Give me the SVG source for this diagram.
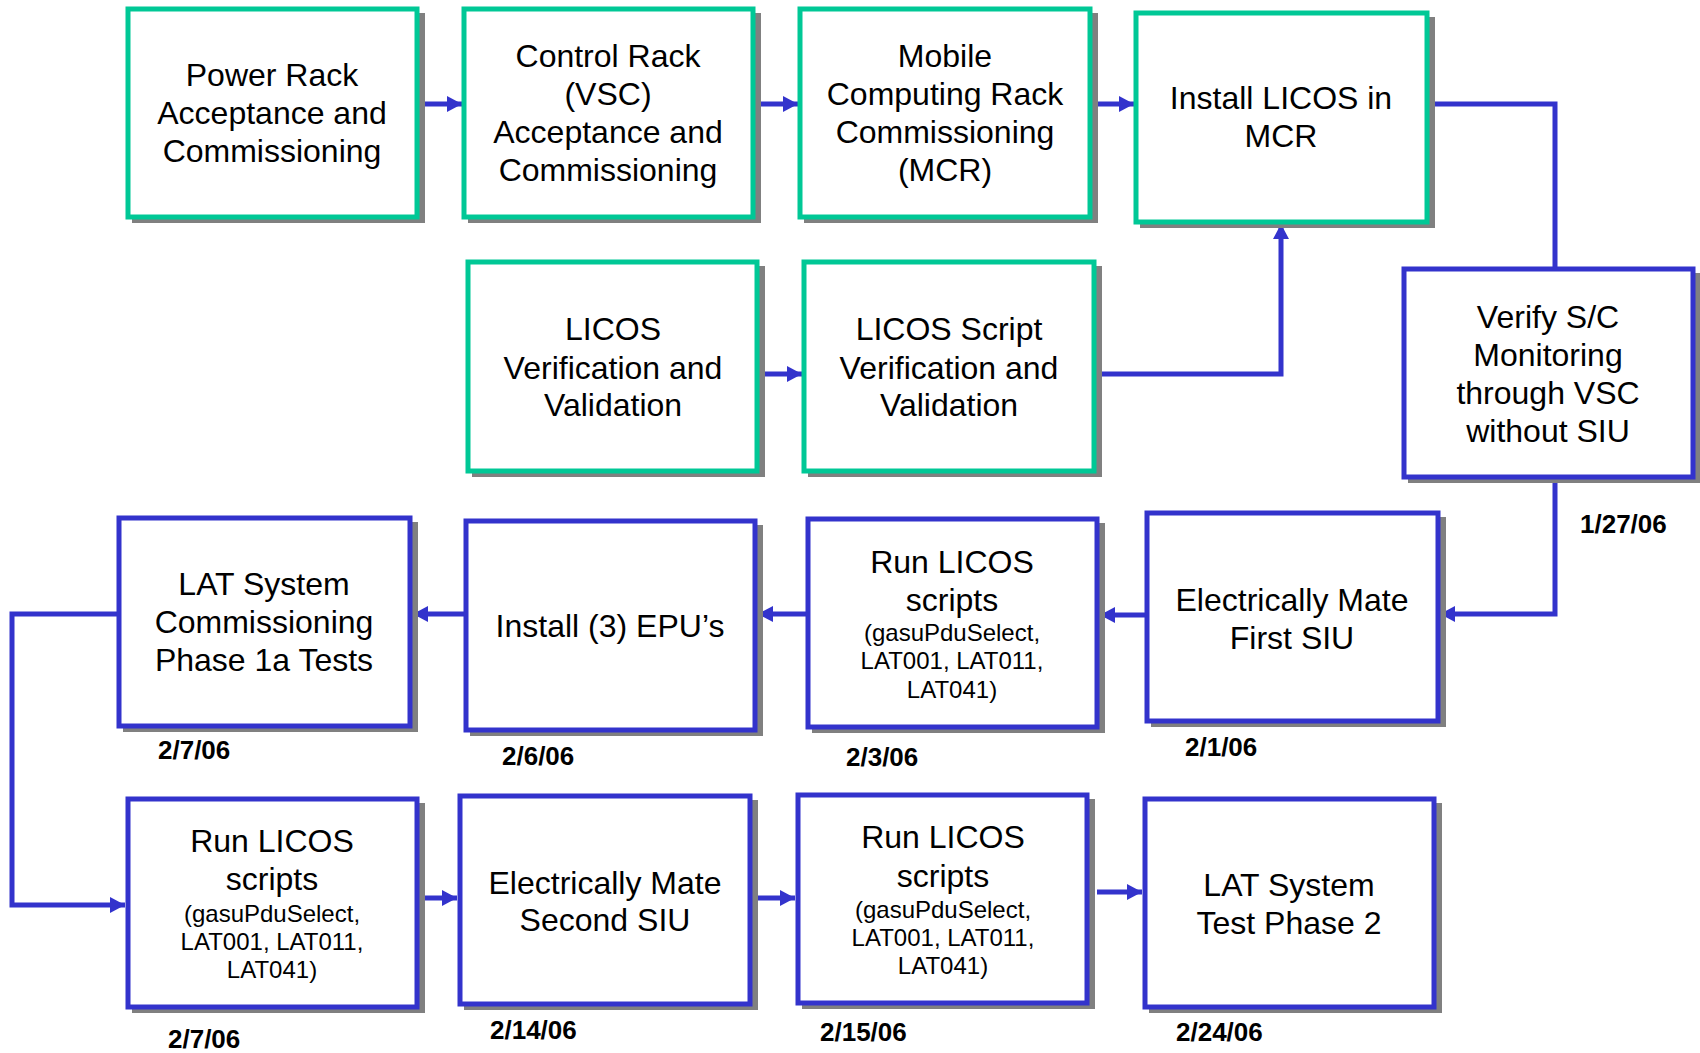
<svg xmlns="http://www.w3.org/2000/svg" width="1700" height="1053" viewBox="0 0 1700 1053">
<style>
.g{fill:#fff;stroke:#00C896;stroke-width:5}
.b{fill:#fff;stroke:#3333CC;stroke-width:5}
.s{fill:#808080}
.t{font-family:"Liberation Sans",Arial,sans-serif;font-size:32px;fill:#000;text-anchor:middle}
.sm{font-size:24px}
.d{font-family:"Liberation Sans",Arial,sans-serif;font-size:26px;font-weight:bold;fill:#000}
.c{fill:none;stroke:#3333CC;stroke-width:5}
</style>
<defs>
<marker id="ah" markerUnits="userSpaceOnUse" markerWidth="16" markerHeight="16" refX="15" refY="8" orient="auto">
<path d="M0,0 L15,8 L0,16 z" fill="#3333CC"/>
</marker>
</defs>
<rect width="1700" height="1053" fill="#fff"/>

<g id="connectors">
<path class="c" d="M417,104 H462" marker-end="url(#ah)"/>
<path class="c" d="M753,104 H798" marker-end="url(#ah)"/>
<path class="c" d="M1090,104 H1134" marker-end="url(#ah)"/>
<path class="c" d="M1427,104 H1555 V269"/>
<path class="c" d="M757,374 H802" marker-end="url(#ah)"/>
<path class="c" d="M1094,374 H1281 V224" marker-end="url(#ah)"/>
<path class="c" d="M1555,477 V614 H1440" marker-end="url(#ah)"/>
<path class="c" d="M1147,615 H1100" marker-end="url(#ah)"/>
<path class="c" d="M808,614 H758" marker-end="url(#ah)"/>
<path class="c" d="M466,614 H413" marker-end="url(#ah)"/>
<path class="c" d="M119,614 H12 V905 H125" marker-end="url(#ah)"/>
<path class="c" d="M414,898 H457" marker-end="url(#ah)"/>
<path class="c" d="M750,898 H795" marker-end="url(#ah)"/>
<path class="c" d="M1097,892 H1142" marker-end="url(#ah)"/>
</g>

<g id="power-rack">
<rect class="s" x="132" y="13" width="293" height="210"/>
<rect class="g" x="128" y="9" width="289" height="208"/>
<text class="t" x="272" y="86">Power Rack</text>
<text class="t" x="272" y="124">Acceptance and</text>
<text class="t" x="272" y="162">Commissioning</text>
</g>

<g id="control-rack">
<rect class="s" x="468" y="13" width="293" height="210"/>
<rect class="g" x="464" y="9" width="289" height="208"/>
<text class="t" x="608" y="67">Control Rack</text>
<text class="t" x="608" y="105">(VSC)</text>
<text class="t" x="608" y="143">Acceptance and</text>
<text class="t" x="608" y="181">Commissioning</text>
</g>

<g id="mobile-rack">
<rect class="s" x="804" y="13" width="294" height="210"/>
<rect class="g" x="800" y="9" width="290" height="208"/>
<text class="t" x="945" y="67">Mobile</text>
<text class="t" x="945" y="105">Computing Rack</text>
<text class="t" x="945" y="143">Commissioning</text>
<text class="t" x="945" y="181">(MCR)</text>
</g>

<g id="install-licos">
<rect class="s" x="1140" y="17" width="295" height="211"/>
<rect class="g" x="1136" y="13" width="291" height="209"/>
<text class="t" x="1281" y="109">Install LICOS in</text>
<text class="t" x="1281" y="147">MCR</text>
</g>

<g id="licos-verification">
<rect class="s" x="472" y="266" width="293" height="211"/>
<rect class="g" x="468" y="262" width="289" height="209"/>
<text class="t" x="613" y="340">LICOS</text>
<text class="t" x="613" y="379">Verification and</text>
<text class="t" x="613" y="416">Validation</text>
</g>

<g id="licos-script">
<rect class="s" x="808" y="266" width="294" height="211"/>
<rect class="g" x="804" y="262" width="290" height="209"/>
<text class="t" x="949" y="340">LICOS Script</text>
<text class="t" x="949" y="379">Verification and</text>
<text class="t" x="949" y="416">Validation</text>
</g>

<g id="verify-sc">
<rect class="s" x="1408" y="273" width="293" height="210"/>
<rect class="b" x="1404" y="269" width="289" height="208"/>
<text class="t" x="1548" y="328">Verify S/C</text>
<text class="t" x="1548" y="366">Monitoring</text>
<text class="t" x="1548" y="404">through VSC</text>
<text class="t" x="1548" y="442">without SIU</text>
</g>
<text class="d" x="1580" y="533">1/27/06</text>

<g id="lat-commissioning">
<rect class="s" x="123" y="522" width="295" height="210"/>
<rect class="b" x="119" y="518" width="291" height="208"/>
<text class="t" x="264" y="595">LAT System</text>
<text class="t" x="264" y="633">Commissioning</text>
<text class="t" x="264" y="671">Phase 1a Tests</text>
</g>
<text class="d" x="158" y="759">2/7/06</text>

<g id="install-epu">
<rect class="s" x="470" y="525" width="293" height="211"/>
<rect class="b" x="466" y="521" width="289" height="209"/>
<text class="t" x="610" y="637">Install (3) EPU’s</text>
</g>
<text class="d" x="502" y="765">2/6/06</text>

<g id="run-licos-1">
<rect class="s" x="812" y="523" width="293" height="210"/>
<rect class="b" x="808" y="519" width="289" height="208"/>
<text class="t" x="952" y="573">Run LICOS</text>
<text class="t" x="952" y="611">scripts</text>
<text class="t sm" x="952" y="641">(gasuPduSelect,</text>
<text class="t sm" x="952" y="669">LAT001, LAT011,</text>
<text class="t sm" x="952" y="698">LAT041)</text>
</g>
<text class="d" x="846" y="766">2/3/06</text>

<g id="mate-first-siu">
<rect class="s" x="1151" y="517" width="295" height="210"/>
<rect class="b" x="1147" y="513" width="291" height="208"/>
<text class="t" x="1292" y="611">Electrically Mate</text>
<text class="t" x="1292" y="649">First SIU</text>
</g>
<text class="d" x="1185" y="756">2/1/06</text>

<g id="run-licos-2">
<rect class="s" x="132" y="803" width="293" height="210"/>
<rect class="b" x="128" y="799" width="289" height="208"/>
<text class="t" x="272" y="852">Run LICOS</text>
<text class="t" x="272" y="890">scripts</text>
<text class="t sm" x="272" y="922">(gasuPduSelect,</text>
<text class="t sm" x="272" y="950">LAT001, LAT011,</text>
<text class="t sm" x="272" y="978">LAT041)</text>
</g>
<text class="d" x="168" y="1048">2/7/06</text>

<g id="mate-second-siu">
<rect class="s" x="464" y="800" width="294" height="210"/>
<rect class="b" x="460" y="796" width="290" height="208"/>
<text class="t" x="605" y="894">Electrically Mate</text>
<text class="t" x="605" y="931">Second SIU</text>
</g>
<text class="d" x="490" y="1039">2/14/06</text>

<g id="run-licos-3">
<rect class="s" x="802" y="799" width="293" height="210"/>
<rect class="b" x="798" y="795" width="289" height="208"/>
<text class="t" x="943" y="848">Run LICOS</text>
<text class="t" x="943" y="887">scripts</text>
<text class="t sm" x="943" y="918">(gasuPduSelect,</text>
<text class="t sm" x="943" y="946">LAT001, LAT011,</text>
<text class="t sm" x="943" y="974">LAT041)</text>
</g>
<text class="d" x="820" y="1041">2/15/06</text>

<g id="lat-phase-2">
<rect class="s" x="1149" y="803" width="293" height="210"/>
<rect class="b" x="1145" y="799" width="289" height="208"/>
<text class="t" x="1289" y="896">LAT System</text>
<text class="t" x="1289" y="934">Test Phase 2</text>
</g>
<text class="d" x="1176" y="1041">2/24/06</text>
</svg>
